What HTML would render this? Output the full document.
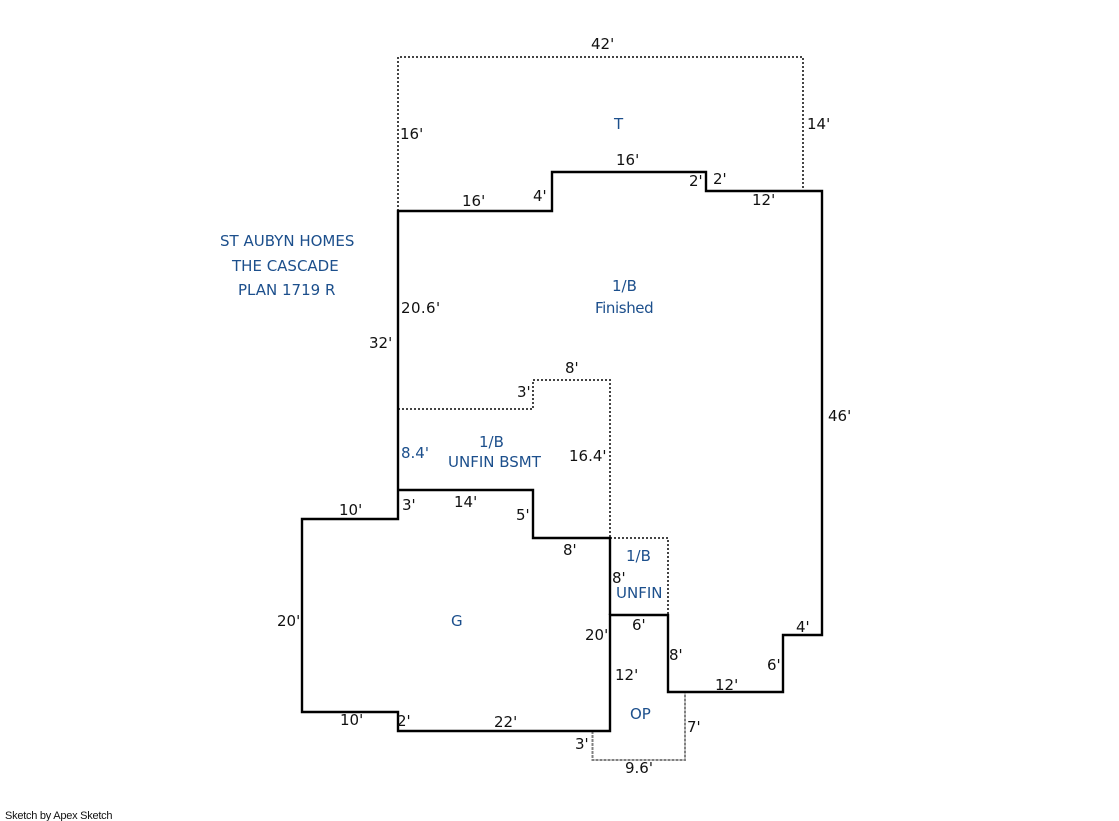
<!DOCTYPE html>
<html><head><meta charset="utf-8"><style>
html,body{margin:0;padding:0;background:#fff;width:1119px;height:821px;overflow:hidden}
svg{display:block}
text{font-family:"DejaVu Sans","Liberation Sans",sans-serif;font-size:15px;fill:#111}
.b{fill:#1c4f8c}
</style></head><body>
<svg width="1119" height="821" viewBox="0 0 1119 821" xmlns="http://www.w3.org/2000/svg">
<g fill="none" stroke="#444" stroke-width="2" stroke-dasharray="2 2">
<path d="M398 211V57H803V191"/>
<path d="M398 409H533V380H610V538"/>
<path d="M610 538H668V615"/>
</g>
<g fill="none" stroke="#808080" stroke-width="2" stroke-dasharray="3 1">
<path d="M592.500 731V760H685V692"/>
</g>
<g fill="none" stroke="#000" stroke-width="2.400" stroke-linejoin="miter">
<path d="M398 211H552V172H706V191H822V635H783V692H668V615H610V731H398V712H302V519H398Z"/>
<path d="M398 490H533V538H610V615"/>
</g>
<text x="591" y="49">42'</text>
<text x="400" y="139">16'</text>
<text x="807" y="129">14'</text>
<text x="616" y="165">16'</text>
<text x="689" y="186">2'</text>
<text x="713" y="184">2'</text>
<text x="752" y="205">12'</text>
<text x="533" y="201">4'</text>
<text x="462" y="206">16'</text>
<text x="401" y="313" style="letter-spacing:.4px">20.6'</text>
<text x="369" y="348">32'</text>
<text x="565" y="373">8'</text>
<text x="517" y="397">3'</text>
<text x="828" y="421">46'</text>
<text x="569" y="461">16.4'</text>
<text x="402" y="510">3'</text>
<text x="454" y="507">14'</text>
<text x="339" y="515">10'</text>
<text x="516" y="520">5'</text>
<text x="563" y="555">8'</text>
<text x="612" y="583">8'</text>
<text x="277" y="626">20'</text>
<text x="585" y="640">20'</text>
<text x="632" y="630">6'</text>
<text x="796" y="632">4'</text>
<text x="669" y="660">8'</text>
<text x="767" y="670">6'</text>
<text x="615" y="680">12'</text>
<text x="715" y="690">12'</text>
<text x="687" y="732">7'</text>
<text x="340" y="725">10'</text>
<text x="397" y="726">2'</text>
<text x="494" y="727">22'</text>
<text x="575" y="749">3'</text>
<text x="625" y="773">9.6'</text>
<text class="b" x="401" y="458">8.4'</text>
<text class="b" x="614" y="129">T</text>
<text class="b" x="220" y="246">ST AUBYN HOMES</text>
<text class="b" x="232" y="271">THE CASCADE</text>
<text class="b" x="238" y="295">PLAN 1719 R</text>
<text class="b" x="612" y="291">1/B</text>
<text class="b" x="595" y="313" style="letter-spacing:-.4px">Finished</text>
<text class="b" x="479" y="447">1/B</text>
<text class="b" x="448" y="467">UNFIN BSMT</text>
<text class="b" x="626" y="561">1/B</text>
<text class="b" x="616" y="598">UNFIN</text>
<text class="b" x="451" y="626">G</text>
<text class="b" x="630" y="719">OP</text>
<text x="5" y="819" style="font-size:11px;letter-spacing:-.25px;font-family:'Liberation Sans',sans-serif">Sketch by Apex Sketch</text>
</svg>
</body></html>
